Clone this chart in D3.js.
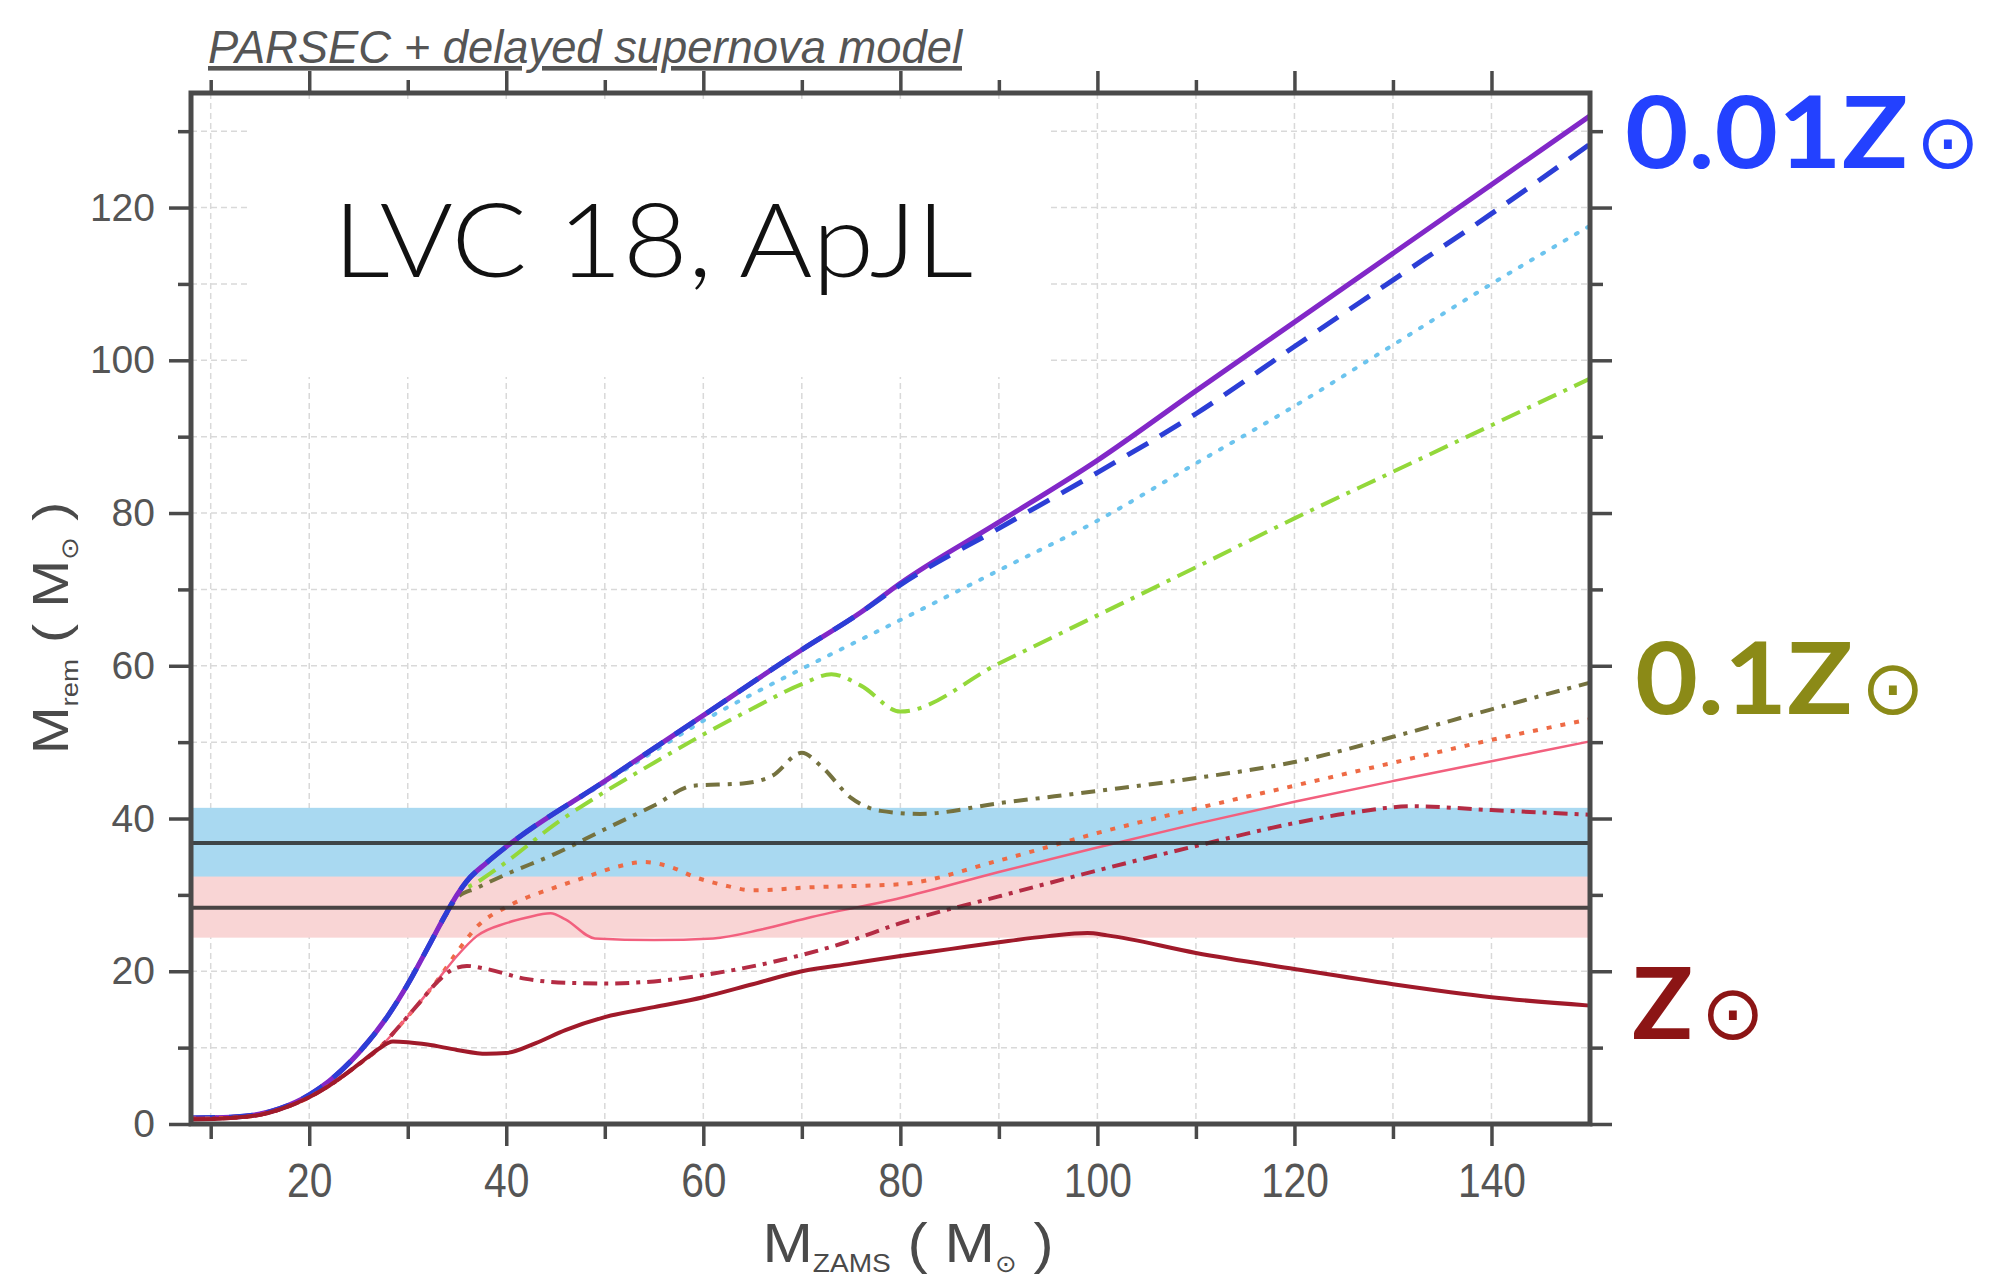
<!DOCTYPE html>
<html>
<head>
<meta charset="utf-8">
<script src="https://cdn.jsdelivr.net/npm/d3@7"></script>
<style>
  html, body { margin: 0; padding: 0; background: #fff; }
  svg { display: block; }
</style>
</head>
<body>
<div id="chart"></div>
<script>
// ---- values: M_ZAMS (x) against M_rem (y), solar masses ----
const xDomain = [8, 150]
const yDomain = [0, 135]
const xMajor = [20, 40, 60, 80, 100, 120, 140]
const xMinor = [10, 30, 50, 70, 90, 110, 130]
const yMajor = [0, 20, 40, 60, 80, 100, 120]
const yMinor = [10, 30, 50, 70, 90, 110, 130]
const gridX = [10, 20, 30, 40, 50, 60, 70, 80, 90, 100, 110, 120, 130, 140]
const gridY = [10, 20, 30, 40, 50, 60, 70, 80, 90, 100, 110, 120, 130]

// purple solid
const purpleX = [8, 12, 15, 17, 20, 22, 25, 28, 30, 32, 34, 35, 36, 38, 40, 50, 60, 70, 76, 80, 90, 100, 110, 120, 130, 140, 150]
const purpleY = [0.8, 0.9, 1.3, 2.0, 3.8, 5.6, 9.3, 14.2, 18.3, 23.0, 27.8, 30.0, 31.8, 34.2, 36.3, 44.9, 53.5, 62.1, 67.0, 70.8, 78.8, 86.9, 96.0, 105.0, 114.0, 123.0, 132.0]
// blue dashed
const blueX = [8, 12, 15, 17, 20, 22, 25, 28, 30, 32, 34, 35, 36, 38, 40, 50, 60, 70, 76, 80, 90, 100, 110, 120, 130, 140, 150]
const blueY = [0.8, 0.9, 1.3, 2.0, 3.8, 5.6, 9.3, 14.2, 18.3, 23.0, 27.8, 30.0, 31.8, 34.2, 36.3, 44.9, 53.5, 62.1, 67.0, 70.6, 78.0, 85.3, 93.0, 101.8, 110.5, 119.2, 128.3]
// light blue dotted
const cyanX = [8, 12, 15, 17, 20, 22, 25, 28, 30, 32, 34, 35, 36, 38, 40, 50, 55, 60, 65, 70, 80, 90, 100, 110, 120, 130, 140, 150]
const cyanY = [0.8, 0.9, 1.3, 2.0, 3.8, 5.6, 9.3, 14.2, 18.3, 23.0, 27.8, 30.0, 31.8, 34.2, 36.3, 44.7, 48.8, 52.8, 56.3, 59.6, 66.0, 72.5, 79.0, 86.5, 94.0, 102.0, 110.0, 117.6]
// green dash-dot
const greenX = [8, 12, 15, 17, 20, 22, 25, 28, 30, 32, 34, 35, 37, 40, 45, 50, 55, 60, 65, 70, 73, 76, 80, 90, 100, 110, 120, 130, 140, 150]
const greenY = [0.8, 0.9, 1.3, 2.0, 3.8, 5.6, 9.3, 14.2, 18.3, 23.0, 27.8, 30.0, 31.6, 34.3, 39.3, 43.5, 47.3, 51.0, 54.4, 57.6, 58.9, 57.4, 54.0, 60.3, 66.6, 72.9, 79.3, 85.4, 91.5, 97.6]
// olive dash-dot
const oliveX = [8, 12, 15, 17, 20, 22, 25, 28, 30, 32, 34, 35, 37, 40, 45, 50, 55, 59, 64, 67, 70, 72, 75, 78, 82, 90, 100, 110, 120, 130, 140, 150]
const oliveY = [0.8, 0.9, 1.3, 2.0, 3.8, 5.6, 9.3, 14.2, 18.3, 23.0, 27.6, 29.6, 30.9, 32.7, 35.4, 38.6, 41.7, 44.3, 44.6, 45.6, 48.6, 46.8, 42.7, 41.0, 40.6, 42.0, 43.6, 45.3, 47.4, 50.7, 54.3, 57.8]
// orange dotted
const orangeX = [8, 12, 15, 17, 20, 22, 25, 27, 29, 31, 33, 35, 37, 40, 42, 45, 48, 51, 54, 57, 59, 62, 65, 71, 80, 90, 100, 110, 120, 130, 140, 150]
const orangeY = [0.7, 0.8, 1.2, 1.9, 3.5, 5.0, 7.8, 9.8, 12.6, 15.6, 18.8, 22.5, 25.8, 28.4, 29.6, 31.0, 32.3, 33.6, 34.3, 33.5, 32.4, 31.3, 30.6, 31.0, 31.4, 34.5, 38.1, 41.3, 44.3, 47.3, 50.3, 53.0]
// pink solid
const pinkX = [8, 12, 15, 17, 20, 22, 25, 27, 29, 31, 33, 35, 37, 40, 42, 44.5, 46, 49, 55, 61, 66, 71, 80, 90, 100, 110, 120, 130, 140, 150]
const pinkY = [0.7, 0.8, 1.2, 1.9, 3.5, 5.0, 7.8, 9.8, 12.6, 15.6, 18.8, 22.0, 24.6, 26.3, 27.0, 27.6, 26.8, 24.3, 24.1, 24.3, 25.5, 27.1, 29.6, 33.0, 36.2, 39.3, 42.2, 44.9, 47.5, 50.1]
// dark red dash-dot
const redDashX = [8, 12, 15, 17, 20, 22, 25, 27, 29, 31, 33, 34.5, 36, 38, 42, 46, 50, 56, 60, 68, 74, 80, 90, 100, 110, 120, 126, 132, 140, 150]
const redDashY = [0.7, 0.8, 1.2, 1.9, 3.5, 5.0, 7.8, 9.8, 12.6, 15.6, 18.6, 20.2, 20.7, 20.3, 19.0, 18.5, 18.4, 18.8, 19.5, 21.5, 23.6, 26.3, 29.8, 33.2, 36.4, 39.4, 40.8, 41.6, 41.1, 40.5]
// dark red solid
const redSolidX = [8, 12, 15, 17, 20, 22, 25, 27, 28.5, 30, 32, 35, 38, 40, 43, 46, 50, 55, 60, 65, 70, 75, 80, 85, 90, 95, 99, 101, 110, 120, 130, 140, 150]
const redSolidY = [0.6, 0.8, 1.2, 1.9, 3.5, 5.0, 7.8, 9.8, 10.8, 10.7, 10.4, 9.7, 9.2, 9.3, 10.6, 12.3, 14.0, 15.3, 16.6, 18.3, 20.0, 21.0, 22.0, 22.9, 23.8, 24.6, 25.0, 24.7, 22.4, 20.3, 18.3, 16.6, 15.5]

// observed masses: [low, median, high]
const primaryMass = [32.4, 36.8, 41.4]
const secondaryMass = [24.4, 28.3, 32.8]

const metalLabels = ['0.01Z', '0.1Z', 'Z']

// ---- page layout ----
const svgWidth = 1999
const svgHeight = 1281
const plot = { left: 191, right: 1590, top: 93, bottom: 1124 }

const svg = d3.select('#chart')
              .append('svg')
              .attr('width', svgWidth)
              .attr('height', svgHeight)
              .style('background', '#fff')

const x = d3.scaleLinear().domain(xDomain).range([plot.left, plot.right])
const y = d3.scaleLinear().domain(yDomain).range([plot.bottom, plot.top])

// grid
const grid = svg.append('g')
                .attr('stroke', '#d9d9d9')
                .attr('stroke-width', 1.5)
                .attr('stroke-dasharray', '6,4')
grid.selectAll('.gx')
    .data(gridX)
    .enter()
    .append('line')
    .attr('x1', d => x(d)).attr('x2', d => x(d))
    .attr('y1', plot.top).attr('y2', plot.bottom)
grid.selectAll('.gy')
    .data(gridY)
    .enter()
    .append('line')
    .attr('x1', plot.left).attr('x2', plot.right)
    .attr('y1', d => y(d)).attr('y2', d => y(d))

// white box behind the reference text
svg.append('rect')
   .attr('x', 249).attr('y', 100)
   .attr('width', 801).attr('height', 277)
   .attr('fill', '#fff')

// mass bands
const bands = [
    { m: secondaryMass, fill: '#f9d5d5' },
    { m: primaryMass, fill: '#a9d9f1' }
]
svg.selectAll('.band')
   .data(bands)
   .enter()
   .append('rect')
   .attr('x', plot.left)
   .attr('width', plot.right - plot.left)
   .attr('y', d => y(d.m[2]))
   .attr('height', d => y(d.m[0]) - y(d.m[2]))
   .attr('fill', d => d.fill)

// curves
const series = [
    { xs: cyanX, ys: cyanY, color: '#6cc4ee', width: 4, dash: '2,11', cap: 'round' },
    { xs: greenX, ys: greenY, color: '#93d83a', width: 4, dash: '20,8,4,8', cap: 'butt' },
    { xs: oliveX, ys: oliveY, color: '#75723f', width: 4, dash: '14,8,4,8', cap: 'butt' },
    { xs: purpleX, ys: purpleY, color: '#8228c8', width: 5, dash: null, cap: 'butt' },
    { xs: blueX, ys: blueY, color: '#2c3ed6', width: 5, dash: '24,14', cap: 'butt' },
    { xs: orangeX, ys: orangeY, color: '#ee6a45', width: 4, dash: '5,9', cap: 'butt' },
    { xs: pinkX, ys: pinkY, color: '#f2607e', width: 2.5, dash: null, cap: 'butt' },
    { xs: redDashX, ys: redDashY, color: '#b42c44', width: 4, dash: '14,7,4,7', cap: 'butt' },
    { xs: redSolidX, ys: redSolidY, color: '#a01a2a', width: 4, dash: null, cap: 'butt' }
]

const line = d3.line()
               .x(d => x(d[0]))
               .y(d => y(d[1]))
               .curve(d3.curveMonotoneX)

svg.selectAll('.curve')
   .data(series)
   .enter()
   .append('path')
   .attr('d', d => line(d.xs.map((v, i) => [v, d.ys[i]])))
   .attr('fill', 'none')
   .attr('stroke', d => d.color)
   .attr('stroke-width', d => d.width)
   .attr('stroke-dasharray', d => d.dash)
   .attr('stroke-linecap', d => d.cap)
   .attr('stroke-linejoin', 'round')

// median lines
svg.selectAll('.median')
   .data([primaryMass[1], secondaryMass[1]])
   .enter()
   .append('line')
   .attr('x1', plot.left).attr('x2', plot.right)
   .attr('y1', d => y(d)).attr('y2', d => y(d))
   .attr('stroke', '#2a2a2a')
   .attr('stroke-opacity', 0.85)
   .attr('stroke-width', 4)

// axes: major and minor ticks on all four sides
const tickColor = '#4a4a4a'
function addAxis(axis, move, values, size, labels) {
    const g = svg.append('g')
                 .attr('transform', move)
                 .call(axis.tickValues(values).tickSize(size).tickSizeOuter(0).tickFormat(labels ? d3.format('d') : ''))
    g.select('.domain').remove()
    g.selectAll('.tick line').attr('stroke', tickColor).attr('stroke-width', 3.5)
    return g
}

const bottomLabels = addAxis(d3.axisBottom(x).tickPadding(17), `translate(0,${plot.bottom})`, xMajor, 22, true)
addAxis(d3.axisBottom(x), `translate(0,${plot.bottom})`, xMinor, 15, false)
addAxis(d3.axisTop(x), `translate(0,${plot.top})`, xMajor, 22, false)
addAxis(d3.axisTop(x), `translate(0,${plot.top})`, xMinor, 13, false)
const leftLabels = addAxis(d3.axisLeft(y).tickPadding(14), `translate(${plot.left},0)`, yMajor, 22, true)
addAxis(d3.axisLeft(y), `translate(${plot.left},0)`, yMinor, 13, false)
addAxis(d3.axisRight(y), `translate(${plot.right},0)`, yMajor, 22, false)
addAxis(d3.axisRight(y), `translate(${plot.right},0)`, yMinor, 13, false)

bottomLabels.selectAll('text')
            .attr('font-family', 'Liberation Sans, Arial, sans-serif')
            .attr('font-size', 48)
            .attr('fill', '#555')
            .attr('transform', 'scale(0.85,1)')
leftLabels.selectAll('text')
          .attr('font-family', 'Liberation Sans, Arial, sans-serif')
          .attr('font-size', 39)
          .attr('fill', '#555')

// frame
svg.append('rect')
   .attr('x', plot.left).attr('y', plot.top)
   .attr('width', plot.right - plot.left)
   .attr('height', plot.bottom - plot.top)
   .attr('fill', 'none')
   .attr('stroke', tickColor)
   .attr('stroke-width', 5)

// title
svg.append('text')
   .attr('x', 208).attr('y', 63)
   .attr('font-family', 'Liberation Sans, Arial, sans-serif')
   .attr('font-style', 'italic')
   .attr('font-size', 46)
   .attr('fill', '#555')
   .attr('text-decoration', 'underline')
   .attr('textLength', 754)
   .attr('lengthAdjust', 'spacingAndGlyphs')
   .text('PARSEC + delayed supernova model')

svg.append('text')
   .attr('x', 333).attr('y', 277)
   .attr('font-family', 'Lato, sans-serif')
   .attr('font-weight', 300)
   .attr('font-size', 103)
   .attr('fill', '#111')
   .attr('textLength', 640)
   .attr('lengthAdjust', 'spacingAndGlyphs')
   .text('LVC 18, ApJL')

// axis titles
function massTitle(g, sub, subSize) {
    g.append('tspan').text('M')
    g.append('tspan').attr('font-size', subSize).attr('dy', 10).text(sub)
    g.append('tspan').attr('dy', -10).text(' ( M')
    g.append('tspan').attr('font-size', 24).attr('dy', 10).attr('font-family', 'DejaVu Sans').text('\u2299')
    g.append('tspan').attr('dy', -10).text(' )')
}

const xTitle = svg.append('text')
                  .attr('transform', 'translate(908,1262) scale(1.08,1)')
                  .attr('text-anchor', 'middle')
                  .attr('font-family', 'Liberation Sans, Arial, sans-serif')
                  .attr('font-size', 56)
                  .attr('fill', '#4a4a4a')
massTitle(xTitle, 'ZAMS', 26)

const yTitle = svg.append('text')
                  .attr('transform', 'translate(68,628) rotate(-90) scale(1.15,1)')
                  .attr('text-anchor', 'middle')
                  .attr('font-family', 'Liberation Sans, Arial, sans-serif')
                  .attr('font-size', 50)
                  .attr('fill', '#4a4a4a')
massTitle(yTitle, 'rem', 24)

// metallicity labels on the right
const labelSpots = [
    { x: 1625, y: 168, w: 283, color: '#2341ff' },
    { x: 1635, y: 714, w: 218, color: '#8b8a17' },
    { x: 1632, y: 1039, w: 61, color: '#8c1515' }
]
labelSpots.forEach((p, i) => {
    const t = svg.append('text')
                 .attr('x', p.x).attr('y', p.y)
                 .attr('fill', p.color)
    t.append('tspan')
     .attr('font-family', 'Lato, sans-serif')
     .attr('font-weight', 700)
     .attr('font-size', 100)
     .attr('textLength', p.w)
     .attr('lengthAdjust', 'spacingAndGlyphs')
     .text(metalLabels[i])
    t.append('tspan')
     .attr('font-family', 'DejaVu Sans')
     .attr('font-size', 76)
     .attr('dx', 8)
     .text('\u2299')
})
</script>
</body>
</html>
